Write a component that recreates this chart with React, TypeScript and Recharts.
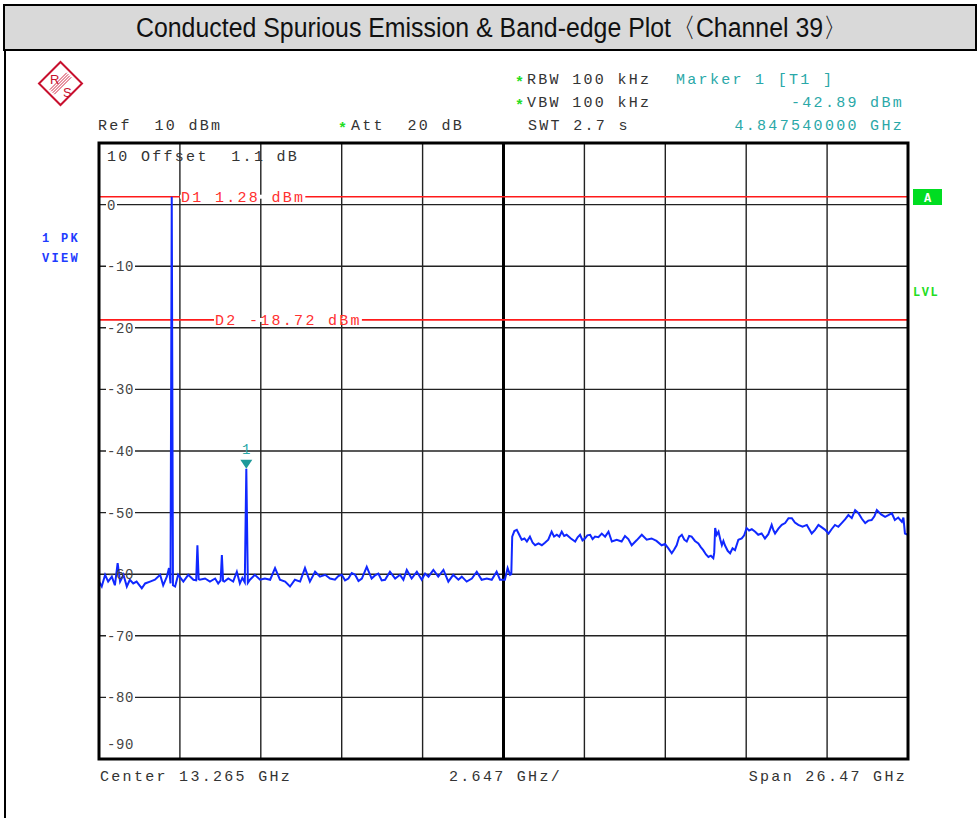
import React from "react";
import {
  LineChart,
  Line,
  XAxis,
  YAxis,
  CartesianGrid,
  ReferenceLine,
  ReferenceDot,
} from "recharts";

// trace (GHz / dBm)
const freqGHz = [
  0.03, 0.12, 0.23, 0.33, 0.45, 0.55, 0.64, 0.72, 0.83, 0.94, 1.04, 1.15, 1.26,
  1.43, 1.54, 1.7, 1.86, 2.03, 2.13, 2.25, 2.32, 2.37, 2.41, 2.45, 2.52, 2.62,
  2.79, 2.95, 3.12, 3.21, 3.25, 3.29, 3.33, 3.5, 3.66, 3.83, 3.93, 4.01, 4.05,
  4.09, 4.13, 4.26, 4.42, 4.54, 4.64, 4.72, 4.8, 4.85, 4.9, 4.97, 5.13, 5.3,
  5.46, 5.63, 5.79, 5.95, 6.12, 6.28, 6.44, 6.61, 6.77, 6.93, 7.1, 7.26, 7.43,
  7.59, 7.75, 7.86, 7.97, 8.08, 8.19, 8.3, 8.41, 8.52, 8.63, 8.79, 8.95, 9.06,
  9.17, 9.28, 9.39, 9.55, 9.72, 9.88, 9.99, 10.1, 10.26, 10.43, 10.59, 10.7,
  10.81, 10.97, 11.13, 11.3, 11.46, 11.62, 11.79, 11.9, 12.06, 12.23, 12.39,
  12.55, 12.72, 12.88, 13.04, 13.15, 13.31, 13.4, 13.48, 13.52, 13.55, 13.62,
  13.7, 13.78, 13.86, 13.95, 14.03, 14.13, 14.22, 14.3, 14.41, 14.52, 14.62,
  14.73, 14.84, 14.92, 15.01, 15.09, 15.17, 15.25, 15.33, 15.47, 15.61, 15.69,
  15.77, 15.85, 15.93, 16.01, 16.1, 16.18, 16.26, 16.37, 16.48, 16.59, 16.7,
  16.81, 16.97, 17.13, 17.24, 17.35, 17.46, 17.62, 17.79, 17.95, 18.11, 18.27,
  18.44, 18.55, 18.66, 18.77, 18.85, 18.93, 19.01, 19.1, 19.18, 19.26, 19.34,
  19.42, 19.53, 19.64, 19.72, 19.8, 19.89, 19.97, 20.05, 20.13, 20.16, 20.19,
  20.24, 20.3, 20.36, 20.41, 20.46, 20.51, 20.6, 20.68, 20.76, 20.84, 20.95,
  21.06, 21.14, 21.22, 21.3, 21.39, 21.5, 21.6, 21.71, 21.82, 21.93, 22.04,
  22.1, 22.15, 22.26, 22.37, 22.48, 22.59, 22.7, 22.8, 22.91, 23.05, 23.19,
  23.27, 23.35, 23.46, 23.57, 23.68, 23.79, 23.9, 24.0, 24.11, 24.22, 24.33,
  24.44, 24.55, 24.66, 24.77, 24.88, 24.99, 25.1, 25.2, 25.31, 25.4, 25.48,
  25.62, 25.75, 25.86, 25.97, 26.07, 26.18, 26.3, 26.35, 26.4, 26.5,
];

const levelDbm = [
  -61.2, -62.0, -60.1, -61.2, -60.4, -61.8, -58.2, -61.2, -60.1, -62.0, -60.9,
  -61.5, -61.2, -62.3, -61.5, -61.2, -60.9, -60.1, -61.8, -60.4, -59.0, -61.5,
  1.28, -61.8, -62.0, -60.1, -61.2, -60.1, -60.9, -61.0, -55.3, -60.8, -60.9,
  -60.7, -61.2, -60.7, -61.5, -61.0, -56.9, -61.1, -61.2, -60.7, -61.2, -59.6,
  -61.5, -60.6, -61.3, -42.89, -61.4, -60.9, -60.1, -60.9, -60.7, -60.9, -59.0,
  -60.9, -61.2, -62.0, -60.9, -61.2, -59.0, -61.2, -59.6, -60.4, -60.1, -60.7,
  -60.9, -60.3, -60.1, -61.0, -60.7, -59.8, -60.1, -61.1, -60.7, -58.8, -60.7,
  -60.2, -59.9, -61.0, -60.9, -59.6, -60.7, -60.1, -60.9, -59.3, -60.7, -59.6,
  -60.9, -59.9, -60.4, -59.3, -60.4, -59.3, -61.2, -60.1, -60.9, -60.4, -61.2,
  -60.7, -59.6, -60.9, -60.7, -60.9, -59.6, -60.9, -60.9, -59.0, -60.1, -60.0,
  -53.9, -53.0, -52.8, -53.6, -54.4, -54.2, -54.7, -53.9, -54.9, -55.3, -55.0,
  -55.3, -54.9, -54.4, -53.1, -53.9, -53.6, -53.9, -53.1, -53.8, -53.6, -54.2,
  -54.7, -54.0, -53.6, -54.5, -54.2, -53.7, -53.6, -54.3, -53.9, -54.0, -53.4,
  -53.9, -53.1, -54.7, -54.4, -54.7, -53.8, -54.3, -55.3, -54.5, -53.6, -54.4,
  -54.2, -54.6, -55.3, -55.1, -55.8, -56.6, -56.0, -55.3, -54.0, -53.6, -54.4,
  -54.7, -53.8, -53.9, -54.6, -55.0, -55.6, -56.1, -56.8, -57.2, -57.0, -57.4,
  -56.5, -52.5, -53.6, -53.1, -54.4, -55.3, -54.6, -55.3, -56.2, -56.6, -55.8,
  -56.1, -54.4, -54.2, -53.7, -52.5, -52.9, -52.7, -53.1, -53.6, -53.4, -54.2,
  -53.5, -52.0, -52.9, -53.4, -52.6, -52.0, -51.7, -50.9, -50.9, -51.6, -52.0,
  -52.3, -52.0, -52.7, -53.4, -52.8, -52.0, -52.4, -52.8, -53.4, -52.7, -52.0,
  -52.3, -51.7, -51.1, -50.4, -50.9, -49.6, -50.1, -51.0, -51.7, -51.3, -51.2,
  -50.6, -49.6, -50.3, -50.7, -50.4, -50.1, -51.2, -50.8, -51.5, -50.8, -53.4,
  -53.6,
];

const xTicksGHz = [
  0.03, 2.677, 5.324, 7.971, 10.618, 13.265, 15.912, 18.559, 21.206, 23.853, 26.5,
];
const yTicksDbm = [-90, -80, -70, -60, -50, -40, -30, -20, -10, 0, 10];

const displayLines = [
  { text: "D1 1.28 dBm", value: 1.28, dx: 82 },
  { text: "D2 -18.72 dBm", value: -18.72, dx: 116 },
];

const markerFreqGHz = 4.85;
const markerLevelDbm = -42.89;

const trace = freqGHz.map((f, i) => ({ f, level: levelDbm[i] }));

const MONO = "'Liberation Mono', 'Courier New', monospace";
const TEAL = "#2aa8a8";
const PRE = { whiteSpace: "pre" as const };

const YTick = (props: any) => {
  const { y, payload } = props;
  const v = payload.value;
  if (v === 10) return <g />;
  const label = String(v);
  if (v === -90) {
    return (
      <text x={107} y={y - 10} fill="#444" fontFamily={MONO} fontSize={14} letterSpacing={0.6}>
        {label}
      </text>
    );
  }
  return (
    <g>
      {v !== -60 && (
        <rect x={106} y={y - 2} width={label.length * 9 + 2} height={4} fill="#fff" />
      )}
      <text x={107} y={y + 5} fill="#444" fontFamily={MONO} fontSize={14} letterSpacing={0.6}>
        {label}
      </text>
    </g>
  );
};

const NoTick = () => <g />;

const DLabel = (props: any) => {
  const { viewBox, text, dx } = props;
  if (!viewBox) return null;
  const x = viewBox.x + dx;
  const y = viewBox.y;
  return (
    <g>
      <rect x={x - 1} y={y - 2} width={text.length * 11.3 + 1} height={4} fill="#fff" />
      <text x={x} y={y + 5} fill="#ff3030" fontFamily={MONO} fontSize={15} letterSpacing={2.3} style={PRE}>
        {text}
      </text>
    </g>
  );
};

const MarkerShape = (props: any) => {
  const { cx, cy } = props;
  return (
    <g>
      <polygon
        points={`${cx - 6},${cy - 9} ${cx + 6},${cy - 9} ${cx},${cy}`}
        fill="#1e9a9a"
      />
      <text x={cx} y={cy - 15} textAnchor="middle" fill={TEAL} fontFamily={MONO} fontSize={14}>
        1
      </text>
    </g>
  );
};

const txt = (x: number, y: number, s: string, fill = "#333", anchor = "start") => (
  <text
    x={x}
    y={y}
    fill={fill}
    fontFamily={MONO}
    fontSize={15}
    letterSpacing={2.3}
    textAnchor={anchor as any}
    style={PRE}
  >
    {s}
  </text>
);

const star = (x: number, y: number) => (
  <text x={x} y={y} fill="#22dd22" fontFamily={MONO} fontSize={15} fontWeight="bold">
    *
  </text>
);

export default function App() {
  return (
    <div
      style={{
        position: "absolute",
        left: 0,
        top: 0,
        width: 978,
        height: 818,
        background: "#fff",
        overflow: "hidden",
      }}
    >
      <div style={{ position: "absolute", left: 0, top: 0 }}>
        <LineChart
          width={978}
          height={818}
          data={trace}
          margin={{ top: 143, right: 70, bottom: 29, left: 59 }}
        >
          <CartesianGrid stroke="#222" strokeWidth={1.4} />
          <XAxis
            dataKey="f"
            type="number"
            domain={[0.03, 26.5]}
            ticks={xTicksGHz}
            interval={0}
            allowDataOverflow
            height={30}
            tick={<NoTick />}
            axisLine={false}
            tickLine={false}
          />
          <YAxis
            type="number"
            domain={[-90, 10]}
            ticks={yTicksDbm}
            interval={0}
            width={40}
            axisLine={false}
            tickLine={false}
            tick={<YTick />}
          />
          <ReferenceLine x={13.265} stroke="#000" strokeWidth={3} />
          {displayLines.map((d) => (
            <ReferenceLine
              key={d.text}
              y={d.value}
              stroke="#ff1a1a"
              strokeWidth={1.6}
              label={<DLabel text={d.text} dx={d.dx} />}
            />
          ))}
          <Line
            dataKey="level"
            type="linear"
            stroke="#1028ff"
            strokeWidth={2}
            dot={false}
            isAnimationActive={false}
          />
          <ReferenceDot
            x={markerFreqGHz}
            y={markerLevelDbm}
            shape={<MarkerShape />}
          />
        </LineChart>
      </div>
      <svg
        width={978}
        height={818}
        style={{ position: "absolute", left: 0, top: 0, pointerEvents: "none" }}
      >
        {/* title bar */}
        <rect x={4} y={5} width={972} height={45} fill="#d9d9d9" stroke="#000" strokeWidth={2} />
        <text
          x={136}
          y={37}
          fontFamily="'Liberation Sans', Arial, sans-serif"
          fontSize={27}
          fill="#111"
          textLength={712}
          lengthAdjust="spacingAndGlyphs"
        >
          Conducted Spurious Emission &amp; Band-edge Plot〈Channel 39〉
        </text>
        <line x1={5} y1={50} x2={5} y2={818} stroke="#000" strokeWidth={2} />

        {/* R&S logo */}
        <g stroke="#c8102e" fill="none">
          <polygon points="60.5,62 82,83.5 60.5,105 39,83.5" strokeWidth={2} fill="#fff" />
          {[-4.5, -1.5, 1.5, 4.5].map((u) => (
            <line
              key={u}
              x1={60.5 + (u - 17) / 2}
              y1={83.5 + (u + 17) / 2}
              x2={60.5 + (u + 17) / 2}
              y2={83.5 + (u - 17) / 2}
              strokeWidth={0.9}
            />
          ))}
        </g>
        <text x={50} y={84} fill="#c8102e" fontFamily="'Liberation Sans', sans-serif" fontSize={13}>
          R
        </text>
        <text x={63} y={97} fill="#c8102e" fontFamily="'Liberation Sans', sans-serif" fontSize={13}>
          S
        </text>

        {/* header */}
        {star(515, 87)}
        {txt(527, 84, "RBW 100 kHz")}
        {star(515, 110)}
        {txt(527, 107, "VBW 100 kHz")}
        {txt(528, 130, "SWT 2.7 s")}
        {txt(676, 84, "Marker 1 [T1 ]", TEAL)}
        {txt(904, 107, "-42.89 dBm", TEAL, "end")}
        {txt(904, 130, "4.847540000 GHz", TEAL, "end")}
        {txt(98, 130, "Ref  10 dBm")}
        {star(338, 133)}
        {txt(351, 130, "Att  20 dB")}
        {txt(107, 161, "10 Offset  1.1 dB")}

        {/* side labels */}
        <text x={42} y={242} fill="#1e3cff" fontFamily={MONO} fontSize={12} fontWeight="bold" letterSpacing={2.3} style={PRE}>
          1 PK
        </text>
        <text x={42} y={262} fill="#1e3cff" fontFamily={MONO} fontSize={12} fontWeight="bold" letterSpacing={2.3}>
          VIEW
        </text>
        <rect x={913} y={189} width={29} height={16} fill="#00dd22" />
        <text x={927.5} y={202} textAnchor="middle" fill="#fff" fontFamily={MONO} fontSize={12} fontWeight="bold">
          A
        </text>
        <text x={913} y={296} fill="#22dd22" fontFamily={MONO} fontSize={12} fontWeight="bold" letterSpacing={1.5}>
          LVL
        </text>

        {/* frame */}
        <rect x={99} y={143} width={809} height={616} fill="none" stroke="#000" strokeWidth={3} />

        {/* footer */}
        {txt(100, 781, "Center 13.265 GHz")}
        {txt(449, 781, "2.647 GHz/")}
        {txt(907, 781, "Span 26.47 GHz", "#333", "end")}
      </svg>
    </div>
  );
}
